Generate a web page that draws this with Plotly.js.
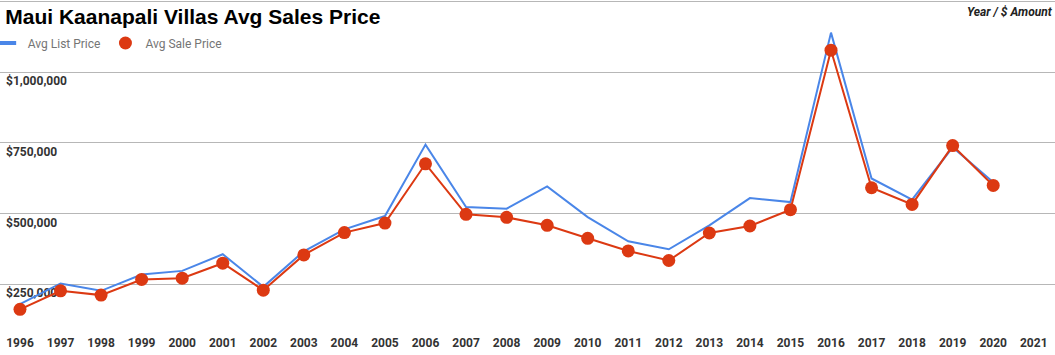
<!DOCTYPE html>
<html>
<head>
<meta charset="utf-8">
<script src="https://cdn.plot.ly/plotly-3.0.1.min.js"></script>
<style>
html,body{margin:0;padding:0;background:#fff;}
#chart{width:1055px;height:355px;}
</style>
</head>
<body>
<div id="chart"></div>
<script>
var years = [1996,1997,1998,1999,2000,2001,2002,2003,2004,2005,2006,2007,2008,2009,2010,2011,2012,2013,2014,2015,2016,2017,2018,2019,2020];
var avgListPrice = [179500,252500,226400,284200,296900,355800,240500,366300,443900,490800,743600,522500,516900,595500,487300,401600,373400,458000,554300,540200,1139600,623800,548600,734000,610700];
var avgSalePrice = [160800,226400,211200,266600,271100,324000,228800,353300,432300,466100,675600,496800,486200,458000,412200,367400,333600,430900,455600,513400,1077500,591000,532000,740000,599000];
var xTickVals = [1996,1997,1998,1999,2000,2001,2002,2003,2004,2005,2006,2007,2008,2009,2010,2011,2012,2013,2014,2015,2016,2017,2018,2019,2020,2021];
var xTickText = ['1996','1997','1998','1999','2000','2001','2002','2003','2004','2005','2006','2007','2008','2009','2010','2011','2012','2013','2014','2015','2016','2017','2018','2019','2020','2021'];
var yTickVals = [250000,500000,750000,1000000,1250000];
var yTickText = ['$250,000','$500,000','$750,000','$1,000,000',''];

var BLUE = '#4a86e8';
var RED = '#dc3912';
var Y_RANGE = [87800, 1255000];

var traces = [
  {x: years, y: avgListPrice, type: 'scatter', mode: 'lines', name: 'Avg List Price', yaxis: 'y',
   line: {color: BLUE, width: 2}, showlegend: false},
  {x: years, y: avgSalePrice, type: 'scatter', mode: 'lines+markers', name: 'Avg Sale Price', yaxis: 'y2',
   line: {color: RED, width: 2}, marker: {color: RED, size: 13}, showlegend: false},
  {x: [null], y: [null], type: 'scatter', mode: 'markers', name: 'Avg List Price', yaxis: 'y',
   marker: {symbol: 'line-ew-open', size: 12, color: BLUE, line: {color: BLUE, width: 4}}, showlegend: true},
  {x: [null], y: [null], type: 'scatter', mode: 'markers', name: 'Avg Sale Price', yaxis: 'y',
   marker: {symbol: 'circle', size: 13, color: RED}, showlegend: true}
];

var tickFont = {family: 'Roboto, Arial, sans-serif', size: 12, color: '#333333', weight: 'bold'};

var layout = {
  width: 1055, height: 355,
  margin: {l: 0, r: 0, t: 0, b: 25, autoexpand: false},
  paper_bgcolor: '#ffffff', plot_bgcolor: '#ffffff',
  font: {family: 'Roboto, Arial, sans-serif', color: '#333333'},
  title: {text: 'Maui Kaanapali Villas Avg Sales Price',
          font: {family: 'Liberation Sans, Arial, sans-serif', size: 21, color: '#000000', weight: 'bold'},
          x: 0.005, xanchor: 'left', xref: 'paper', y: 0.952, yanchor: 'middle', yref: 'container'},
  xaxis: {range: [1995.507, 2021.524], tickmode: 'array', tickvals: xTickVals, ticktext: xTickText,
          showgrid: false, zeroline: false, showline: false, ticks: '', ticklabelstandoff: 4,
          tickfont: tickFont, fixedrange: true},
  yaxis: {range: Y_RANGE, tickmode: 'array', tickvals: yTickVals,
          showgrid: true, gridcolor: '#b7b7b7', gridwidth: 1, zeroline: false, showline: false, ticks: '',
          showticklabels: false, fixedrange: true},
  yaxis2: {range: Y_RANGE, overlaying: 'y', side: 'right', anchor: 'free', position: 0,
           tickmode: 'array', tickvals: yTickVals, ticktext: yTickText,
           showgrid: false, zeroline: false, showline: false, ticks: '', layer: 'below traces',
           ticklabelposition: 'outside', ticklabelstandoff: 5, ticklabelshift: 9,
           tickfont: tickFont, fixedrange: true},
  legend: {orientation: 'h', x: -0.0116, xanchor: 'left', y: 0.8697, yanchor: 'middle', yref: 'paper', xref: 'paper',
           font: {family: 'Roboto, Arial, sans-serif', size: 12, color: '#757575'},
           bgcolor: 'rgba(0,0,0,0)', itemwidth: 30, traceorder: 'normal'},
  annotations: [
    {text: '<b><i>Year / $ Amount</i></b>', xref: 'paper', yref: 'paper', x: 1.0, y: 0.965, xanchor: 'right', yanchor: 'middle',
     showarrow: false, font: {family: 'Roboto, Arial, sans-serif', size: 12, color: '#222222'}}
  ],
  hovermode: false
};

Plotly.newPlot('chart', traces, layout, {displayModeBar: false, staticPlot: true});
</script>
</body>
</html>
